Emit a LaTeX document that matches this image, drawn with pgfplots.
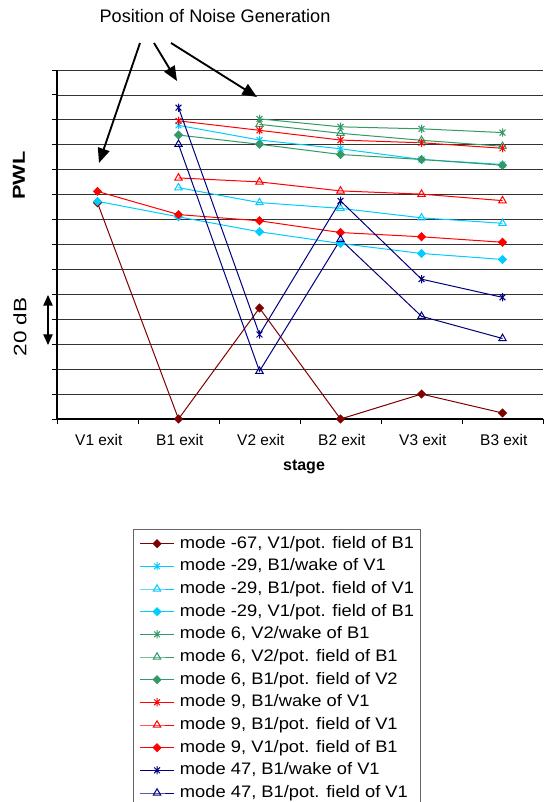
\documentclass[border=0pt]{standalone}
\usepackage{fontspec}
\setmainfont{Liberation Sans}
\newfontfamily\legfont[FakeStretch=1.1]{Liberation Sans}
\newfontfamily\widefont[FakeStretch=1.25]{Liberation Sans}
\usepackage{pgfplots}
\pgfplotsset{compat=1.18}
\usetikzlibrary{arrows.meta}
\definecolor{cDR}{HTML}{800000}
\definecolor{cCY}{HTML}{00CCFF}
\definecolor{cGR}{HTML}{339966}
\definecolor{cRD}{HTML}{FF0000}
\definecolor{cNV}{HTML}{000080}
\pgfdeclareplotmark{xstar}{%
  \pgfpathmoveto{\pgfqpoint{0pt}{\pgfplotmarksize}}%
  \pgfpathlineto{\pgfqpoint{0pt}{-\pgfplotmarksize}}%
  \pgfpathmoveto{\pgfqpoint{-.7071\pgfplotmarksize}{.7071\pgfplotmarksize}}%
  \pgfpathlineto{\pgfqpoint{.7071\pgfplotmarksize}{-.7071\pgfplotmarksize}}%
  \pgfpathmoveto{\pgfqpoint{-.7071\pgfplotmarksize}{-.7071\pgfplotmarksize}}%
  \pgfpathlineto{\pgfqpoint{.7071\pgfplotmarksize}{.7071\pgfplotmarksize}}%
  \pgfusepathqstroke}
\begin{document}
\begin{tikzpicture}[x=0.75pt,y=0.75pt]
\useasboundingbox (0,0) rectangle (545,802);
\clip (0,0) rectangle (545,802);
\coordinate (AO) at (57,383);
\begin{axis}[
  at={(AO)}, anchor=south west, scale only axis,
  width=364.5pt, height=261.75pt,
  xmin=-0.5, xmax=5.5, ymin=0, ymax=140,
  axis lines=left, axis line style={-, black, line width=0.8pt},
  xtick={-0.5,0.5,...,5.5}, x tick label as interval,
  xticklabels={V1 exit,B1 exit,V2 exit,B2 exit,V3 exit,B3 exit},
  ytick={0,10,...,140}, yticklabels={},
  ymajorgrids, grid style={black!80, line width=0.6pt},
  tick align=outside, major tick length=3.75pt,
  tick style={black, line width=0.7pt},
  xticklabel style={font=\fontsize{11.6}{13}\selectfont, yshift=-4.5pt, xshift=1pt},
  clip=false,
  every axis plot/.append style={line width=0.75pt},
  legend style={at={(0.1564,-0.3152)}, anchor=north west,
    draw=black!60, line width=0.7pt, fill=white,
    font=\legfont\fontsize{12.5}{15}\selectfont,
    inner xsep=4.5pt, inner ysep=4.5pt,
    nodes={inner sep=0pt, text height=9.5pt, text depth=2.8pt},
    row sep=4.7pt, column sep=4pt},
  legend cell align=left,
  legend image code/.code={\draw[mark repeat=2,mark phase=2,#1] plot coordinates {(0cm,0cm) (0.45cm,0cm) (0.9cm,0cm)};},
]
\addplot[cDR, mark=diamond*, mark size=2.9pt, mark options={xscale=1.33}] coordinates {(0,86.7)(1,0)(2,44.5)(3,0)(4,10)(5,2.4)};
\addlegendentry{mode -67, V1/pot. field of B1}
\addplot[cCY, mark=xstar, mark size=3.1pt] coordinates {(1,117.8)(2,111.9)(3,108.4)(4,104.1)(5,102.1)};
\addlegendentry{mode -29, B1/wake of V1}
\addplot[cCY, mark=triangle, mark size=3.2pt] coordinates {(1,92.8)(2,86.8)(3,84.5)(4,80.7)(5,78.5)};
\addlegendentry{mode -29, B1/pot. field of V1}
\addplot[cCY, mark=diamond*, mark size=2.9pt, mark options={xscale=1.33}] coordinates {(0,87.3)(1,81.1)(2,75.1)(3,70.4)(4,66.4)(5,64.0)};
\addlegendentry{mode -29, V1/pot. field of B1}
\addplot[cGR, mark=xstar, mark size=3.1pt] coordinates {(2,120.4)(3,117.2)(4,116.4)(5,114.9)};
\addlegendentry{mode 6, V2/wake of B1}
\addplot[cGR, mark=triangle, mark size=3.2pt] coordinates {(2,118.2)(3,114.6)(4,111.8)(5,109.4)};
\addlegendentry{mode 6, V2/pot. field of B1}
\addplot[cGR, mark=diamond*, mark size=2.9pt, mark options={xscale=1.33}] coordinates {(1,113.9)(2,110.2)(3,106.1)(4,104.1)(5,101.8)};
\addlegendentry{mode 6, B1/pot. field of V2}
\addplot[cRD, mark=xstar, mark size=3.1pt] coordinates {(1,119.6)(2,115.8)(3,111.9)(4,110.8)(5,108.6)};
\addlegendentry{mode 9, B1/wake of V1}
\addplot[cRD, mark=triangle, mark size=3.2pt] coordinates {(1,96.7)(2,95.1)(3,91.5)(4,90.2)(5,87.6)};
\addlegendentry{mode 9, B1/pot. field of V1}
\addplot[cRD, mark=diamond*, mark size=2.9pt, mark options={xscale=1.33}] coordinates {(0,91.3)(1,82.0)(2,79.5)(3,74.8)(4,73.1)(5,70.9)};
\addlegendentry{mode 9, V1/pot. field of B1}
\addplot[cNV, mark=xstar, mark size=3.1pt] coordinates {(1,124.9)(2,33.9)(3,87.5)(4,56.1)(5,48.8)};
\addlegendentry{mode 47, B1/wake of V1}
\addplot[cNV, mark=triangle, mark size=3.2pt] coordinates {(1,110.2)(2,19.2)(3,72.0)(4,41.2)(5,32.3)};
\addlegendentry{mode 47, B1/pot. field of V1}
\end{axis}
% annotations
\node[anchor=base, font=\fontsize{13.6}{16}\selectfont] at (215,779) {Position of Noise Generation};
\draw[line width=1.4pt, -{Triangle[length=11pt,width=9pt]}] (140,759) -- (99,639);
\draw[line width=1.4pt, -{Triangle[length=11pt,width=9pt]}] (154,759) -- (177,721);
\draw[line width=1.4pt, -{Triangle[length=11pt,width=9pt]}] (171,759) -- (257,705);
\node[rotate=90, font=\widefont\bfseries\fontsize{13}{15}\selectfont] at (19,626.5) {PWL};
\node[rotate=90, font=\widefont\fontsize{13.5}{15}\selectfont] at (20,475) {20 dB};
\draw[line width=1pt, {Triangle[length=8pt,width=7pt]}-{Triangle[length=8pt,width=7pt]}] (48,507) -- (48,457);
\node[anchor=base, font=\bfseries\fontsize{12}{14}\selectfont] at (304,331) {stage};
\end{tikzpicture}
\end{document}
